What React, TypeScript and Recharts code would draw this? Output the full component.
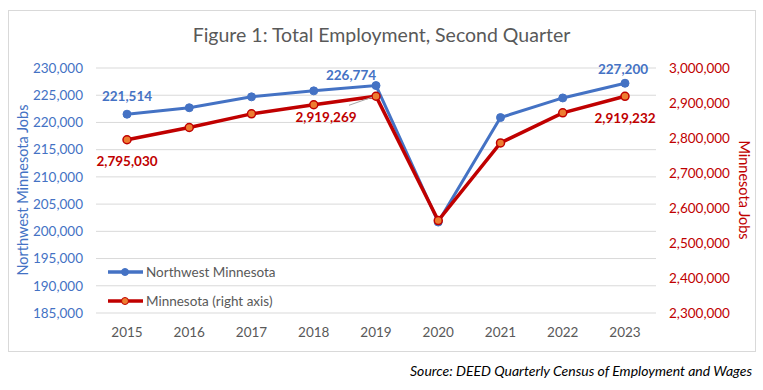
import React from 'react';
import { LineChart, Line, XAxis, YAxis, CartesianGrid, LabelList } from 'recharts';

const years = ['2015', '2016', '2017', '2018', '2019', '2020', '2021', '2022', '2023'];
const nwJobs = [221514, 222700, 224700, 225800, 226774, 201700, 220900, 224500, 227200];
const mnJobs = [2795030, 2830000, 2869000, 2895000, 2919269, 2564000, 2786000, 2872000, 2919232];
const leftTicks = [185000, 190000, 195000, 200000, 205000, 210000, 215000, 220000, 225000, 230000];
const rightTicks = [2300000, 2400000, 2500000, 2600000, 2700000, 2800000, 2900000, 3000000];
const labeledYears = ['2015', '2019', '2023'];

const data = years.map((year, i) => ({ year, nw: nwJobs[i], mn: mnJobs[i] }));

const BLUE = '#4472C4';
const RED = '#C00000';
const ORANGE = '#ED7D31';
const GRAY = '#595959';
const FONT = 'Lato, "Noto Sans", sans-serif';

const fmt = (v: number) => v.toLocaleString('en-US');

// label offsets from the point, per labelled year
const nwOffsets: Record<string, [number, number]> = { '2015': [0, -18], '2019': [-25, -11], '2023': [-2, -14] };
const mnOffsets: Record<string, [number, number]> = { '2015': [0, 21], '2019': [-50, 21], '2023': [0, 22] };

function makeLabel(series: number[], offsets: Record<string, [number, number]>, color: string, leader: boolean) {
    return (props: any) => {
        const { x, y, value } = props;
        const idx = props.index ?? series.indexOf(value);
        const year = years[idx];
        if (!labeledYears.includes(year)) return null;
        const [dx, dy] = offsets[year];
        return (
            <g>
                {leader && year === '2019' && (
                    <line x1={x - 27} y1={y + 9} x2={x - 4} y2={y + 1} stroke="#A6A6A6" strokeWidth={1} />
                )}
                <text
                    x={x + dx}
                    y={y + dy}
                    textAnchor="middle"
                    dominantBaseline="central"
                    fill={color}
                    fontFamily={FONT}
                    fontSize={13.5}
                    fontWeight={700}
                >
                    {fmt(value)}
                </text>
            </g>
        );
    };
}

const legendItems = [
    { label: 'Northwest Minnesota', stroke: BLUE, fill: BLUE },
    { label: 'Minnesota (right axis)', stroke: RED, fill: ORANGE },
];

function LegendBox() {
    return (
        <svg width={200} height={50} style={{ position: 'absolute', left: 107, top: 262 }}>
            {legendItems.map((it, i) => {
                const cy = 10 + i * 29;
                return (
                    <g key={it.label}>
                        <line x1={1} y1={cy} x2={36} y2={cy} stroke={it.stroke} strokeWidth={3.5} />
                        <circle cx={18} cy={cy} r={3.5} fill={it.fill} stroke={it.stroke} strokeWidth={1} />
                        <text x={39} y={cy} dominantBaseline="central" fill={GRAY} fontFamily={FONT} fontSize={13.5}>
                            {it.label}
                        </text>
                    </g>
                );
            })}
        </svg>
    );
}

export default function App() {
    return (
        <div style={{ position: 'absolute', left: 0, top: 0, width: 763, height: 390, background: '#fff', fontFamily: FONT }}>
            <div
                style={{
                    position: 'absolute',
                    left: 8,
                    top: 10,
                    width: 746,
                    height: 340,
                    border: '1px solid #D9D9D9',
                }}
            />
            <div
                style={{
                    position: 'absolute',
                    left: 8,
                    width: 747,
                    top: 22,
                    textAlign: 'center',
                    fontSize: 19.5,
                    color: GRAY,
                    lineHeight: '26px',
                }}
            >
                Figure 1: Total Employment, Second Quarter
            </div>
            <div style={{ position: 'absolute', left: 0, top: 0 }}>
                <LineChart width={763} height={390} data={data} margin={{ top: 68, right: 32, bottom: 47, left: 36 }}>
                    <CartesianGrid yAxisId="left" vertical={false} stroke="#D9D9D9" strokeWidth={1} />
                    <XAxis
                        dataKey="year"
                        axisLine={false}
                        tickLine={false}
                        tickSize={0}
                        tickMargin={14}
                        height={30}
                        padding={{ left: 31, right: 31 }}
                        tick={{ fill: GRAY, fontSize: 13.5, fontFamily: FONT }}
                    />
                    <YAxis
                        yAxisId="left"
                        domain={[185000, 230000]}
                        ticks={leftTicks}
                        tickFormatter={fmt}
                        axisLine={false}
                        tickLine={false}
                        tickSize={0}
                        tickMargin={13}
                        width={60}
                        tick={{ fill: BLUE, fontSize: 13.5, fontFamily: FONT }}
                        label={{
                            content: () => (
                                <text
                                    transform="translate(22,190) rotate(-90)"
                                    textAnchor="middle"
                                    dominantBaseline="central"
                                    fill={BLUE}
                                    fontFamily={FONT}
                                    fontSize={14.5}
                                >
                                    Northwest Minnesota Jobs
                                </text>
                            ),
                        }}
                    />
                    <YAxis
                        yAxisId="right"
                        orientation="right"
                        domain={[2300000, 3000000]}
                        ticks={rightTicks}
                        tickFormatter={fmt}
                        axisLine={false}
                        tickLine={false}
                        tickSize={0}
                        tickMargin={13}
                        width={75}
                        tick={{ fill: RED, fontSize: 13.5, fontFamily: FONT }}
                        label={{
                            content: () => (
                                <text
                                    transform="translate(744,190) rotate(90)"
                                    textAnchor="middle"
                                    dominantBaseline="central"
                                    fill={RED}
                                    fontFamily={FONT}
                                    fontSize={14.5}
                                >
                                    Minnesota Jobs
                                </text>
                            ),
                        }}
                    />
                    <Line
                        yAxisId="left"
                        dataKey="nw"
                        name="Northwest Minnesota"
                        stroke={BLUE}
                        strokeWidth={3}
                        dot={{ r: 4, fill: BLUE, stroke: BLUE, strokeWidth: 1 }}
                        isAnimationActive={false}
                    >
                        <LabelList dataKey="nw" content={makeLabel(nwJobs, nwOffsets, BLUE, false)} />
                    </Line>
                    <Line
                        yAxisId="right"
                        dataKey="mn"
                        name="Minnesota (right axis)"
                        stroke={RED}
                        strokeWidth={3.5}
                        dot={{ r: 4, fill: ORANGE, stroke: RED, strokeWidth: 1.5 }}
                        isAnimationActive={false}
                    >
                        <LabelList dataKey="mn" content={makeLabel(mnJobs, mnOffsets, RED, true)} />
                    </Line>
                </LineChart>
            </div>
            <LegendBox />
            <div
                style={{
                    position: 'absolute',
                    right: 11,
                    top: 361,
                    fontSize: 14,
                    fontStyle: 'italic',
                    color: '#000',
                    lineHeight: '20px',
                }}
            >
                Source: DEED Quarterly Census of Employment and Wages
            </div>
        </div>
    );
}
